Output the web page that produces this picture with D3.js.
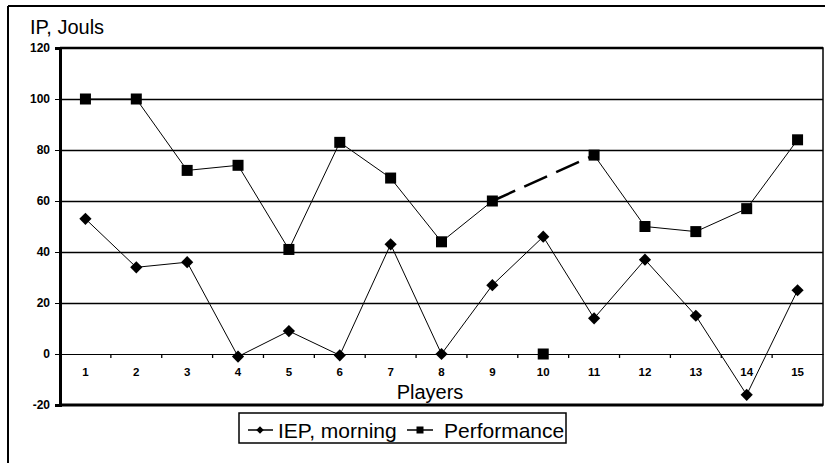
<!DOCTYPE html>
<html>
<head>
<meta charset="utf-8">
<script src="https://cdn.jsdelivr.net/npm/d3@7"></script>
<style>
  body { margin: 0; background: #fff; }
  svg { display: block; font-family: "Liberation Sans", Arial, sans-serif; }
</style>
</head>
<body>
<svg id="chart" width="825" height="463"></svg>
<script>
const players = [1, 2, 3, 4, 5, 6, 7, 8, 9, 10, 11, 12, 13, 14, 15];
const iepMorning = [53, 34, 36, -1, 9, -0.5, 43, 0, 27, 46, 14, 37, 15, -16, 25];
const performance = [100, 100, 72, 74, 41, 83, 69, 44, 60, 0, 78, 50, 48, 57, 84];
const yTicks = [-20, 0, 20, 40, 60, 80, 100, 120];

const svg = d3.select("#chart");
const plotLeft = 60, plotRight = 823, plotTop = 48, plotBottom = 405;

const x = d3.scaleBand().domain(players).range([plotLeft, plotRight]);
const y = d3.scaleLinear().domain([-20, 120]).range([plotBottom, plotTop]);
const cx = d => x(d) + x.bandwidth() / 2;

// outer frame
svg.append("line").attr("x1", 8).attr("x2", 825).attr("y1", 6).attr("y2", 6)
   .attr("stroke", "#000").attr("stroke-width", 2);
svg.append("line").attr("x1", 8).attr("x2", 8).attr("y1", 6).attr("y2", 463)
   .attr("stroke", "#000").attr("stroke-width", 2);

// gridlines
svg.append("g")
   .selectAll("line")
   .data(yTicks.filter(t => t > 0 && t < 120))
   .enter()
   .append("line")
   .attr("x1", plotLeft).attr("x2", plotRight)
   .attr("y1", d => Math.round(y(d)) + 0.5).attr("y2", d => Math.round(y(d)) + 0.5)
   .attr("stroke", "#000").attr("stroke-width", 1.3);

// plot border
svg.append("rect")
   .attr("x", plotLeft).attr("y", plotTop)
   .attr("width", plotRight - plotLeft).attr("height", plotBottom - plotTop)
   .attr("fill", "none").attr("stroke", "#000").attr("stroke-width", 1.5);
svg.append("line").attr("x1", plotLeft).attr("x2", plotRight).attr("y1", plotTop).attr("y2", plotTop)
   .attr("stroke", "#000").attr("stroke-width", 2.5);
svg.append("line").attr("x1", plotLeft - 1).attr("x2", plotRight).attr("y1", plotBottom).attr("y2", plotBottom)
   .attr("stroke", "#000").attr("stroke-width", 3);

// y axis
const yAxis = svg.append("g")
   .attr("transform", "translate(" + plotLeft + ",0)")
   .call(d3.axisLeft(y).tickValues(yTicks).tickFormat(d => String(d)).tickSize(5).tickPadding(5));
yAxis.select(".domain").attr("stroke-width", 3);
yAxis.selectAll("text").style("font-size", "12px").style("font-weight", "bold").attr("fill", "#000");

// x axis at zero
const xAxis = svg.append("g")
   .attr("transform", "translate(0," + y(0) + ")")
   .call(d3.axisBottom(x).tickSize(0).tickPadding(14));
xAxis.select(".domain").attr("stroke-width", 1.2);
xAxis.selectAll("text").style("font-size", "11.5px").style("font-weight", "bold").attr("fill", "#000");
svg.append("g")
   .selectAll("line")
   .data(players.slice(1))
   .enter()
   .append("line")
   .attr("x1", d => x(d)).attr("x2", d => x(d))
   .attr("y1", y(0)).attr("y2", y(0) + 4)
   .attr("stroke", "#000").attr("stroke-width", 1.3);

// titles
svg.append("text").attr("x", 30).attr("y", 34)
   .style("font-size", "20px").text("IP, Jouls");
svg.append("text").attr("x", 430).attr("y", 399).attr("text-anchor", "middle")
   .style("font-size", "20px").text("Players");

// lines
const line = d3.line().x(d => cx(d.p)).y(d => y(d.v));
const iepData = players.map((p, i) => ({ p: p, v: iepMorning[i] }));
const perfData = players.map((p, i) => ({ p: p, v: performance[i] }));

svg.append("path").datum(iepData).attr("d", line)
   .attr("fill", "none").attr("stroke", "#000").attr("stroke-width", 1);

svg.append("path").datum(perfData.slice(0, 9)).attr("d", line)
   .attr("fill", "none").attr("stroke", "#000").attr("stroke-width", 1);
svg.append("path").datum(perfData.slice(10)).attr("d", line)
   .attr("fill", "none").attr("stroke", "#000").attr("stroke-width", 1);
svg.append("path").datum([perfData[8], perfData[10]]).attr("d", line)
   .attr("fill", "none").attr("stroke", "#000").attr("stroke-width", 2.5)
   .attr("stroke-dasharray", "25,10");

// markers
const diamond = d3.symbol().type(d3.symbolDiamond2).size(95);
svg.append("g").selectAll("path")
   .data(iepData).enter().append("path")
   .attr("d", diamond)
   .attr("transform", d => "translate(" + cx(d.p) + "," + y(d.v) + ")")
   .attr("fill", "#000");

const sq = 11;
svg.append("g").selectAll("rect")
   .data(perfData).enter().append("rect")
   .attr("x", d => cx(d.p) - sq / 2).attr("y", d => y(d.v) - sq / 2)
   .attr("width", sq).attr("height", sq)
   .attr("fill", "#000");

// legend
const legend = svg.append("g");
legend.append("rect").attr("x", 239).attr("y", 413).attr("width", 327).attr("height", 30)
   .attr("fill", "#fff").attr("stroke", "#000").attr("stroke-width", 1.5);
legend.append("line").attr("x1", 248).attr("x2", 273).attr("y1", 430).attr("y2", 430)
   .attr("stroke", "#000").attr("stroke-width", 1.5);
legend.append("path").attr("d", d3.symbol().type(d3.symbolDiamond2).size(36))
   .attr("transform", "translate(260,430)").attr("fill", "#000");
legend.append("text").attr("x", 278).attr("y", 438).style("font-size", "21px").text("IEP, morning");
legend.append("line").attr("x1", 407).attr("x2", 433).attr("y1", 430).attr("y2", 430)
   .attr("stroke", "#000").attr("stroke-width", 1.5);
legend.append("rect").attr("x", 416.5).attr("y", 426.5).attr("width", 7).attr("height", 7).attr("fill", "#000");
legend.append("text").attr("x", 444).attr("y", 438).style("font-size", "21px").text("Performance");
</script>
</body>
</html>
